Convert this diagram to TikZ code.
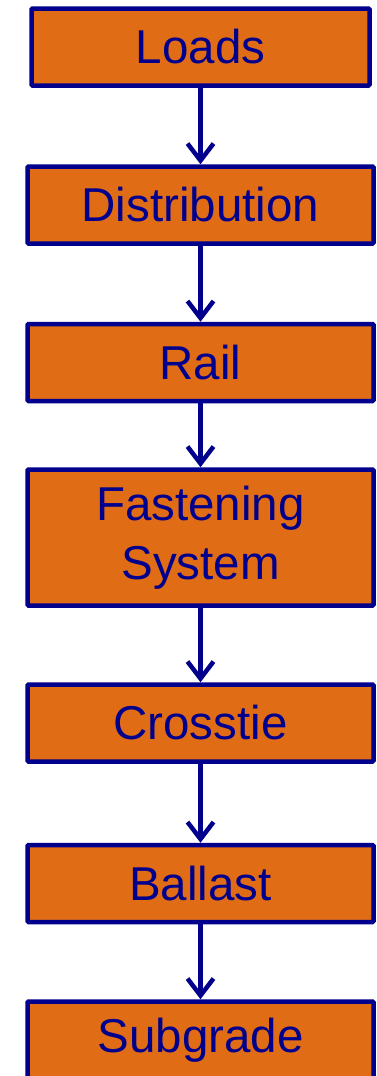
\documentclass[tikz,border=0pt]{standalone}
\usepackage{fontspec}
\setmainfont{Liberation Sans}
\usetikzlibrary{arrows.meta}
\definecolor{boxfill}{RGB}{224,108,22}
\definecolor{navy}{RGB}{0,0,140}
\begin{document}
\begin{tikzpicture}[x=1pt,y=1pt,
  block/.style={draw=navy, fill=boxfill, line width=4.5pt, rounded corners=1pt,
    text=navy, font=\fontsize{47.5}{59}\selectfont, align=center,
    inner sep=0pt, minimum width=346pt, minimum height=77pt},
  flow/.style={draw=navy, line width=4.5pt,
    -{Straight Barb[length=17pt,width=26pt,line width=4.5pt]}}]
\useasboundingbox (0,0) rectangle (376,-1076);
\node[block, minimum width=338pt] (loads) at (200.5,-47) {Loads};
\node[block] (dist) at (200.5,-205) {Distribution};
\node[block] (rail) at (200.5,-362.5) {Rail};
\node[block, minimum height=136pt] (fast) at (200.5,-537.5) {Fastening\\System};
\node[block] (cross) at (200.5,-723) {Crosstie};
\node[block] (ball) at (200.5,-883.5) {Ballast};
\node[block] (sub) at (200.5,-1040) {Subgrade};
\draw[flow] (loads.south) -- (dist.north);
\draw[flow] (dist.south) -- (rail.north);
\draw[flow] (rail.south) -- (fast.north);
\draw[flow] (fast.south) -- (cross.north);
\draw[flow] (cross.south) -- (ball.north);
\draw[flow] (ball.south) -- (sub.north);
\end{tikzpicture}
\end{document}
